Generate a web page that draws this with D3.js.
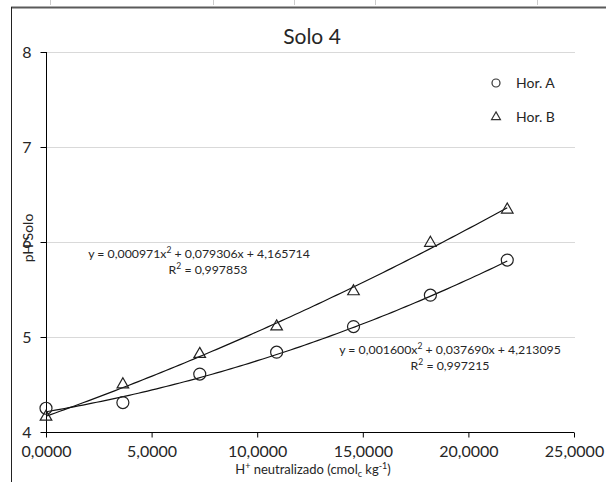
<!DOCTYPE html>
<html>
<head>
<meta charset="utf-8">
<script src="https://cdn.jsdelivr.net/npm/d3@7"></script>
<style>
  body { margin: 0; background: #fff; }
  svg { display: block; font-family: Lato, "Open Sans", sans-serif; }
</style>
</head>
<body>
<svg id="chart" width="606" height="482"></svg>
<script>
// H+ neutralizado (cmolc/kg) for each step
const hNeutral = [0, 3.64, 7.28, 10.92, 14.56, 18.2, 21.84];
// pH values
const horA = [4.25, 4.31, 4.61, 4.84, 5.11, 5.44, 5.81];
const horB = [4.16, 4.50, 4.82, 5.11, 5.48, 5.99, 6.34];
// trendline coefficients [a, b, c] from the labels: a*x^2 + b*x + c
const fitA = [0.001600, 0.037690, 4.213095];
const fitB = [0.000971, 0.079306, 4.165714];
const r2A = "0,997215";
const r2B = "0,997853";
const xTicks = [0, 5, 10, 15, 20, 25];
const yTicks = [4, 5, 6, 7, 8];
const seriesNames = ["Hor. A", "Hor. B"];

const svg = d3.select("#chart");

// frame bits from the screenshot crop
svg.append("line").attr("x1", 11).attr("x2", 606).attr("y1", 7.5).attr("y2", 7.5)
  .attr("stroke", "#5a5a5a").attr("stroke-width", 2);
svg.append("line").attr("x1", 11.5).attr("x2", 11.5).attr("y1", 7).attr("y2", 482)
  .attr("stroke", "#222").attr("stroke-width", 1);
[50, 213, 294, 375, 537].forEach(px => {
  svg.append("line").attr("x1", px + 0.5).attr("x2", px + 0.5).attr("y1", 0).attr("y2", 5)
    .attr("stroke", "#ccc");
});

const x = d3.scaleLinear().domain([0, 25]).range([46, 574]);
const y = d3.scaleLinear().domain([4, 8]).range([432, 52]);

// gridlines
svg.append("g")
  .selectAll("line")
  .data(yTicks.filter(d => d > 4))
  .join("line")
  .attr("x1", x(0)).attr("x2", x(25) + 1)
  .attr("y1", d => Math.round(y(d)) + 0.5).attr("y2", d => Math.round(y(d)) + 0.5)
  .attr("stroke", "#d9d9d9");

// axes
const fmtX = d => d3.format(".4f")(d).replace(".", ",");
const xAxis = svg.append("g")
  .attr("transform", `translate(0,${Math.round(y(4)) + 0.5})`)
  .call(d3.axisBottom(x).tickValues(xTicks).tickFormat(fmtX).tickSize(5).tickPadding(8));
const yAxis = svg.append("g")
  .attr("transform", `translate(${x(0) + 0.5},0)`)
  .call(d3.axisLeft(y).tickValues(yTicks).tickFormat(d3.format("d")).tickSize(6).tickPadding(9));

[xAxis, yAxis].forEach(g => {
  g.select(".domain").attr("stroke", "#000");
  g.selectAll(".tick line").attr("stroke", "#000");
  g.selectAll("text").attr("fill", "#262626").style("font-size", "16px")
    .style("font-family", "Lato, sans-serif");
});
xAxis.select(".domain").attr("d", `M${x(0)},0H${x(25)}`);
yAxis.select(".domain").attr("d", `M0,${y(4)}V${y(8)}`);
yAxis.selectAll("text").attr("dy", "0.35em");

// title
svg.append("text").attr("x", 312).attr("y", 44).attr("text-anchor", "middle")
  .style("font-size", "21px").attr("fill", "#262626").text("Solo 4");

// axis titles
const xt = svg.append("text").attr("x", 313).attr("y", 474).attr("text-anchor", "middle")
  .style("font-size", "13px").attr("fill", "#262626");
xt.append("tspan").text("H");
xt.append("tspan").attr("dy", -5).style("font-size", "9px").text("+");
xt.append("tspan").attr("dy", 5).text(" neutralizado (cmol");
xt.append("tspan").attr("dy", 3).style("font-size", "9px").text("c");
xt.append("tspan").attr("dy", -3).text(" kg");
xt.append("tspan").attr("dy", -5).style("font-size", "9px").text("-1");
xt.append("tspan").attr("dy", 5).text(")");

svg.append("text").attr("transform", "translate(33,238) rotate(-90)")
  .attr("text-anchor", "middle").style("font-size", "14px").attr("fill", "#262626")
  .text("pH Solo");

// trendlines
const clip = 21.84;
function trend(c) {
  const pts = d3.range(0, 101).map(i => i / 100 * clip);
  return d3.line().x(d => x(d)).y(d => y(c[0] * d * d + c[1] * d + c[2]))(pts);
}
svg.append("path").attr("d", trend(fitA)).attr("fill", "none").attr("stroke", "#111").attr("stroke-width", 1.2);
svg.append("path").attr("d", trend(fitB)).attr("fill", "none").attr("stroke", "#111").attr("stroke-width", 1.2);

// markers
const tri = d3.symbol().type(d3.symbolTriangle);
svg.append("g").selectAll("circle")
  .data(hNeutral.map((h, i) => [h, horA[i]]))
  .join("circle")
  .attr("cx", d => x(d[0])).attr("cy", d => y(d[1])).attr("r", 6)
  .attr("fill", "none").attr("stroke", "#222").attr("stroke-width", 1.2);
svg.append("g").selectAll("path")
  .data(hNeutral.map((h, i) => [h, horB[i]]))
  .join("path")
  .attr("d", tri.size(58))
  .attr("transform", d => `translate(${x(d[0])},${y(d[1])})`)
  .attr("fill", "none").attr("stroke", "#222").attr("stroke-width", 1.2);

// equations
function eq(cx, by, c, r2, rx) {
  const f = v => v.toFixed(6).replace(".", ",");
  const t = svg.append("text").attr("x", cx).attr("y", by).attr("text-anchor", "middle")
    .style("font-size", "12.3px").attr("fill", "#262626");
  t.append("tspan").text(`y = ${f(c[0])}x`);
  t.append("tspan").attr("dy", -5).style("font-size", "8.5px").text("2");
  t.append("tspan").attr("dy", 5).text(` + ${f(c[1])}x + ${f(c[2])}`);
  const r = svg.append("text").attr("x", rx).attr("y", by + 16).attr("text-anchor", "middle")
    .style("font-size", "12.3px").attr("fill", "#262626");
  r.append("tspan").text("R");
  r.append("tspan").attr("dy", -5).style("font-size", "8.5px").text("2");
  r.append("tspan").attr("dy", 5).text(` = ${r2}`);
}
eq(199, 258, fitB, r2B, 208);
eq(450, 354, fitA, r2A, 450);

// legend
const lg = svg.append("g");
lg.append("circle").attr("cx", 496).attr("cy", 83).attr("r", 4)
  .attr("fill", "none").attr("stroke", "#333").attr("stroke-width", 1.2);
lg.append("path").attr("d", tri.size(34)).attr("transform", "translate(496,117)")
  .attr("fill", "none").attr("stroke", "#333").attr("stroke-width", 1.2);
lg.selectAll("text").data(seriesNames).join("text")
  .attr("x", 516).attr("y", (d, i) => 88 + i * 34)
  .style("font-size", "14px").attr("fill", "#262626").text(d => d);
</script>
</body>
</html>
